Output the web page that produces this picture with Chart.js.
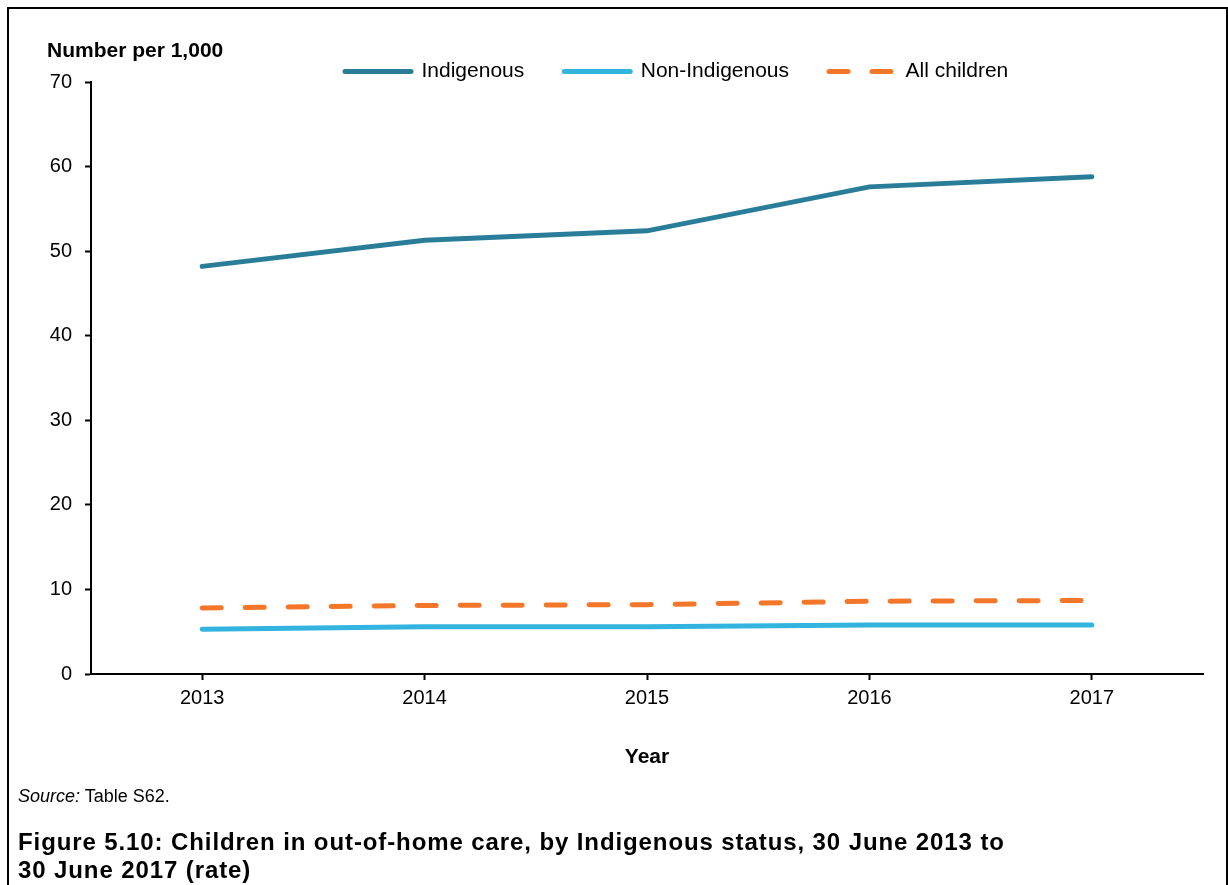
<!DOCTYPE html>
<html>
<head>
<meta charset="utf-8">
<script src="https://cdn.jsdelivr.net/npm/chart.js@4.4.1/dist/chart.umd.min.js"></script>
<style>
  body { margin: 0; background: #fff; font-family: "Liberation Sans", Arial, sans-serif; }
  #wrap { position: relative; width: 1228px; height: 885px; overflow: hidden; }
  #frame { position: absolute; left: 7px; top: 7px; width: 1217px; height: 900px; border: 2px solid #000; }
  canvas { position: absolute; left: 0; top: 0; }
  .txt { position: absolute; color: #000; white-space: nowrap; }
</style>
</head>
<body>
<div id="wrap">
  <div id="frame"></div>
  <canvas id="myChart" width="1228" height="885"></canvas>
  <div class="txt" style="left:47px; top:38px; font-size:21px; font-weight:bold;">Number per 1,000</div>
  <div class="txt" style="left:18px; top:786px; font-size:18px;"><i>Source:</i> Table S62.</div>
  <div class="txt" style="left:18px; top:828px; font-size:24px; font-weight:bold; line-height:28px; letter-spacing:0.9px;">Figure 5.10: Children in out-of-home care, by Indigenous status, 30 June 2013 to<br>30 June 2017 (rate)</div>
</div>
<script>
// données
const annees = ['2013', '2014', '2015', '2016', '2017'];
const indigenous = [48.2, 51.3, 52.4, 57.6, 58.8];
const nonIndigenous = [5.3, 5.6, 5.6, 5.8, 5.8];
const allChildren = [7.8, 8.1, 8.2, 8.6, 8.7];
const yTicks = [0, 10, 20, 30, 40, 50, 60, 70];

const police = "'Liberation Sans', Arial, sans-serif";

// legend placement tweak
const legendPlace = {
    id: 'legendPlace',
    afterLayout(chart) {
        const lg = chart.legend;
        if (!lg || !lg.lineWidths) return;
        const pad = lg.options.labels.padding;
        const startX = (lg.left + pad + lg.right - lg.lineWidths[0]) / 2;
        const dx = 345 - startX;
        lg.left += dx;
        lg.right += dx;
        const dy = 21 - lg.top;
        lg.top += dy;
        lg.bottom += dy;
    }
};

const ctx = document.getElementById('myChart').getContext('2d');

const data = {
    labels: annees,
    datasets: [{
        label: 'Indigenous',
        data: indigenous,
        borderColor: '#2A7D99',
        backgroundColor: '#2A7D99',
        borderWidth: 5,
        borderCapStyle: 'round',
        pointRadius: 0
    }, {
        label: 'Non-Indigenous',
        data: nonIndigenous,
        borderColor: '#33B4DE',
        backgroundColor: '#33B4DE',
        borderWidth: 5,
        borderCapStyle: 'round',
        pointRadius: 0
    }, {
        label: 'All children',
        data: allChildren,
        borderColor: '#F47629',
        backgroundColor: '#F47629',
        borderWidth: 5,
        borderCapStyle: 'round',
        borderDash: [19, 24],
        pointRadius: 0
    }]
};

const options = {
    responsive: false,
    animation: false,
    layout: { padding: { left: 0, right: 25, top: 11, bottom: 111 } },
    plugins: {
        legend: {
            position: 'top',
            labels: {
                color: '#000',
                font: { family: police, size: 21 },
                usePointStyle: true,
                pointStyle: 'line',
                pointStyleWidth: 66,
                padding: 40,
                generateLabels(chart) {
                    const items = Chart.defaults.plugins.legend.labels.generateLabels(chart);
                    items.forEach(it => {
                        const ds = chart.data.datasets[it.datasetIndex];
                        it.lineCap = ds.borderCapStyle;
                        it.lineDash = ds.borderDash || [];
                        it.lineWidth = ds.borderWidth;
                        it.strokeStyle = ds.borderColor;
                    });
                    return items;
                }
            }
        },
        tooltip: { enabled: false }
    },
    scales: {
        x: {
            offset: true,
            afterFit(scale) { scale.height = 100; },
            grid: {
                offset: false,
                drawOnChartArea: false,
                tickLength: 6,
                tickColor: '#000',
                tickWidth: 2
            },
            border: { color: '#000', width: 2 },
            ticks: { color: '#000', font: { family: police, size: 20 }, padding: 6 },
            title: {
                display: true,
                text: 'Year',
                color: '#000',
                font: { family: police, size: 21, weight: 'bold' },
                padding: { top: 0, bottom: 4 }
            }
        },
        y: {
            min: 0,
            max: 70,
            afterFit(scale) { scale.width = 91; },
            afterBuildTicks(scale) { scale.ticks = yTicks.map(v => ({ value: v })); },
            grid: {
                drawOnChartArea: false,
                tickLength: 6,
                tickColor: '#000',
                tickWidth: 2
            },
            border: { color: '#000', width: 2 },
            ticks: { color: '#000', font: { family: police, size: 20 }, padding: 13 }
        }
    }
};

const chartPoint = new Chart(ctx, {
    type: 'line',
    data: data,
    options: options,
    plugins: [legendPlace]
});
</script>
</body>
</html>
